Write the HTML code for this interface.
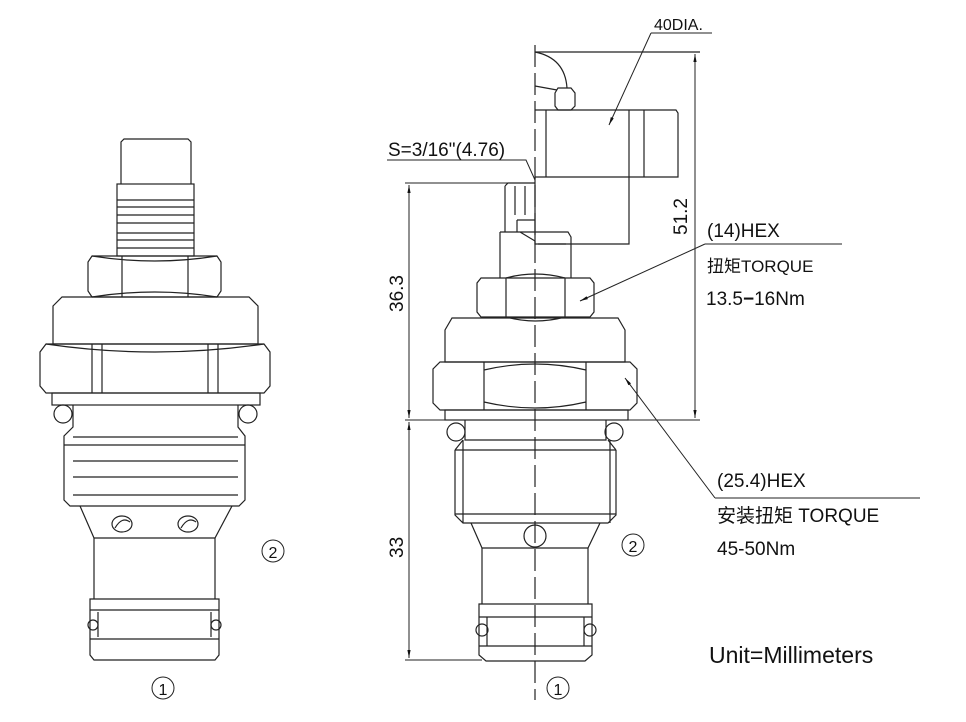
<!DOCTYPE html>
<html><head><meta charset="utf-8"><style>
html,body{margin:0;padding:0;background:#fff}
svg{display:block}
text{font-family:"Liberation Sans","Noto Sans CJK SC",sans-serif;fill:#111}
</style></head><body>
<svg width="966" height="722" viewBox="0 0 966 722" xmlns="http://www.w3.org/2000/svg">
<defs>
<marker id="ar" viewBox="0 0 10 10" refX="10" refY="5" markerWidth="8" markerHeight="8" orient="auto-start-reverse"><path d="M0,3 L10,5 L0,7 z" fill="#111"/></marker>
</defs>
<g fill="none" stroke="#222" stroke-width="1.2">
<!-- LEFT VALVE -->
<path d="M121,184 V142 L124,139 H188 L191,142 V184"/>
<rect x="117" y="184" width="77" height="72"/>
<path d="M117,200 H194 M117,207 H194 M117,215 H194 M117,223 H194 M117,233 H194 M117,240 H194 M117,248 H194"/>
<path d="M92,256 H217 L221,262 V291 L217,297 H92 L88,291 V262 Z"/>
<path d="M122,256 V297 M188,256 V297 M92,256 Q155,266 217,256 M92,297 Q155,287 217,297"/>
<path d="M53,306 L62,297 H249 L258,306 V344 H53 Z"/>
<path d="M46,344 H264 L270,352 V386 L264,393 H46 L40,386 V352 Z"/>
<path d="M92,344 V393 M102,344 V393 M208,344 V393 M218,344 V393 M46,344 Q155,360 264,344"/>
<rect x="52" y="393" width="208" height="12"/>
<circle cx="63" cy="414" r="9"/><circle cx="248" cy="414" r="9"/>
<path d="M73,405 V427 L64,436 V500 L70,506 H239 L245,500 V436 L238,427 V405"/>
<path d="M64,445 H245 M73,461 H238 M73,477 H238 M73,495 H238 M73,437 H238"/>
<path d="M80,506 L94,538 H215 L232,506"/>
<ellipse cx="122" cy="524" rx="10" ry="8"/><ellipse cx="188" cy="524" rx="10" ry="8"/>
<path d="M115,528 Q122,516 130,522 M181,528 Q188,516 196,522"/>
<path d="M94,538 V599 M215,538 V599"/>
<path d="M90,599 H219 V655 L215,660 H94 L90,655 Z"/>
<path d="M90,610 H219 M90,639 H219 M98,612 V637 M211,612 V637"/>
<circle cx="93" cy="625" r="5"/><circle cx="216" cy="625" r="5"/>
<!-- RIGHT VALVE -->
<path d="M535,45 V700" stroke-dasharray="22,6"/>
<path d="M535,52 H700"/>
<path d="M535,52 Q565,58 567,88"/>
<path d="M535,86 L557,90"/>
<path d="M558,88 H571 L575,93 V106 L571,110 H558 L555,106 V93 Z"/>
<path d="M535,110 H676 L678,113 V177 H535"/>
<path d="M546,110 V177 M629,110 V177 M644,110 V177"/>
<path d="M535,177 V244 H629 V177"/>
<path d="M505,186 L508,183 H535 M505,186 V232 M515,186 V215 M525,186 V215 M517,220 H535 M517,220 V232"/>
<path d="M500,232 H568 L571,237 V278 M500,232 V278 M520,232 L535,241 M538,244 H566"/>
<path d="M481,278 H590 L594,283 V312 L590,317 H481 L477,312 V283 Z"/>
<path d="M506,278 V317 M565,278 V317 M506,278 Q535,270 565,278 M506,317 Q535,325 565,317"/>
<path d="M445,330 L452,318 H618 L625,330 V362 H445 Z"/>
<path d="M440,362 H630 L637,369 V403 L630,410 H440 L433,403 V369 Z"/>
<path d="M484,362 V410 M586,362 V410 M484,370 Q535,358 586,370 M484,402 Q535,414 586,402"/>
<rect x="445" y="410" width="183" height="10"/>
<circle cx="456" cy="432" r="9"/><circle cx="614" cy="432" r="9"/>
<path d="M465,420 V440 H606 V420 M455,450 L463,440 M616,450 L608,440"/>
<path d="M455,450 V515 L463,523 H608 L616,515 V450 M463,440 V523 M610,440 V523 M455,450 H616 M455,514 H616"/>
<path d="M471,523 L482,548 H588 L600,523"/>
<circle cx="535" cy="536" r="11"/>
<path d="M482,548 V604 M588,548 V604"/>
<path d="M479,604 H592 V655 L585,661 H486 L479,655 Z"/>
<path d="M479,617 H592 M479,646 H592 M487,617 V646 M584,617 V646"/>
<circle cx="482" cy="630" r="6"/><circle cx="590" cy="630" r="6"/>
</g>
<!-- dimensions -->
<g stroke="#222" stroke-width="1" fill="none">
<path d="M695,54 V418" marker-start="url(#ar)" marker-end="url(#ar)"/>
<path d="M535,420 H700"/>
<path d="M405,183 H535"/>
<path d="M409,185 V418" marker-start="url(#ar)" marker-end="url(#ar)"/>
<path d="M405,420 H445"/>
<path d="M409,422 V658" marker-start="url(#ar)" marker-end="url(#ar)"/>
<path d="M405,660 H482"/>
<path d="M387,160 H526 L535,180"/>
<path d="M651,33 H712"/>
<path d="M651,33 L609,125" marker-end="url(#ar)"/>
<path d="M705,244 H842"/>
<path d="M705,244 L580,301" marker-end="url(#ar)"/>
<path d="M715,498 H920"/>
<path d="M715,498 L625,378" marker-end="url(#ar)"/>
</g>
<text x="654" y="30" font-size="16">40DIA.</text>
<text x="388" y="156" font-size="19">S=3/16"(4.76)</text>
<text x="707" y="237" font-size="19">(14)HEX</text>
<text x="707" y="272" font-size="17">扭矩TORQUE</text>
<text x="706" y="305" font-size="19">13.5<tspan font-weight="bold">−</tspan>16Nm</text>
<text x="717" y="487" font-size="19">(25.4)HEX</text>
<text x="717" y="522" font-size="19">安装扭矩 TORQUE</text>
<text x="717" y="555" font-size="19">45-50Nm</text>
<text x="709" y="663" font-size="23" fill="#333">Unit=Millimeters</text>
<text transform="translate(687,235) rotate(-90)" font-size="19">51.2</text>
<text transform="translate(403,312) rotate(-90)" font-size="19">36.3</text>
<text transform="translate(403,558) rotate(-90)" font-size="19">33</text>
<g fill="none" stroke="#222" stroke-width="1"><circle cx="273" cy="551" r="11"/><circle cx="163" cy="688" r="11"/><circle cx="633" cy="545" r="11"/><circle cx="558" cy="688" r="11"/></g>
<text x="273" y="558" font-size="16" text-anchor="middle">2</text>
<text x="163" y="695" font-size="16" text-anchor="middle">1</text>
<text x="633" y="552" font-size="16" text-anchor="middle">2</text>
<text x="558" y="695" font-size="16" text-anchor="middle">1</text>
</svg>
</body></html>
